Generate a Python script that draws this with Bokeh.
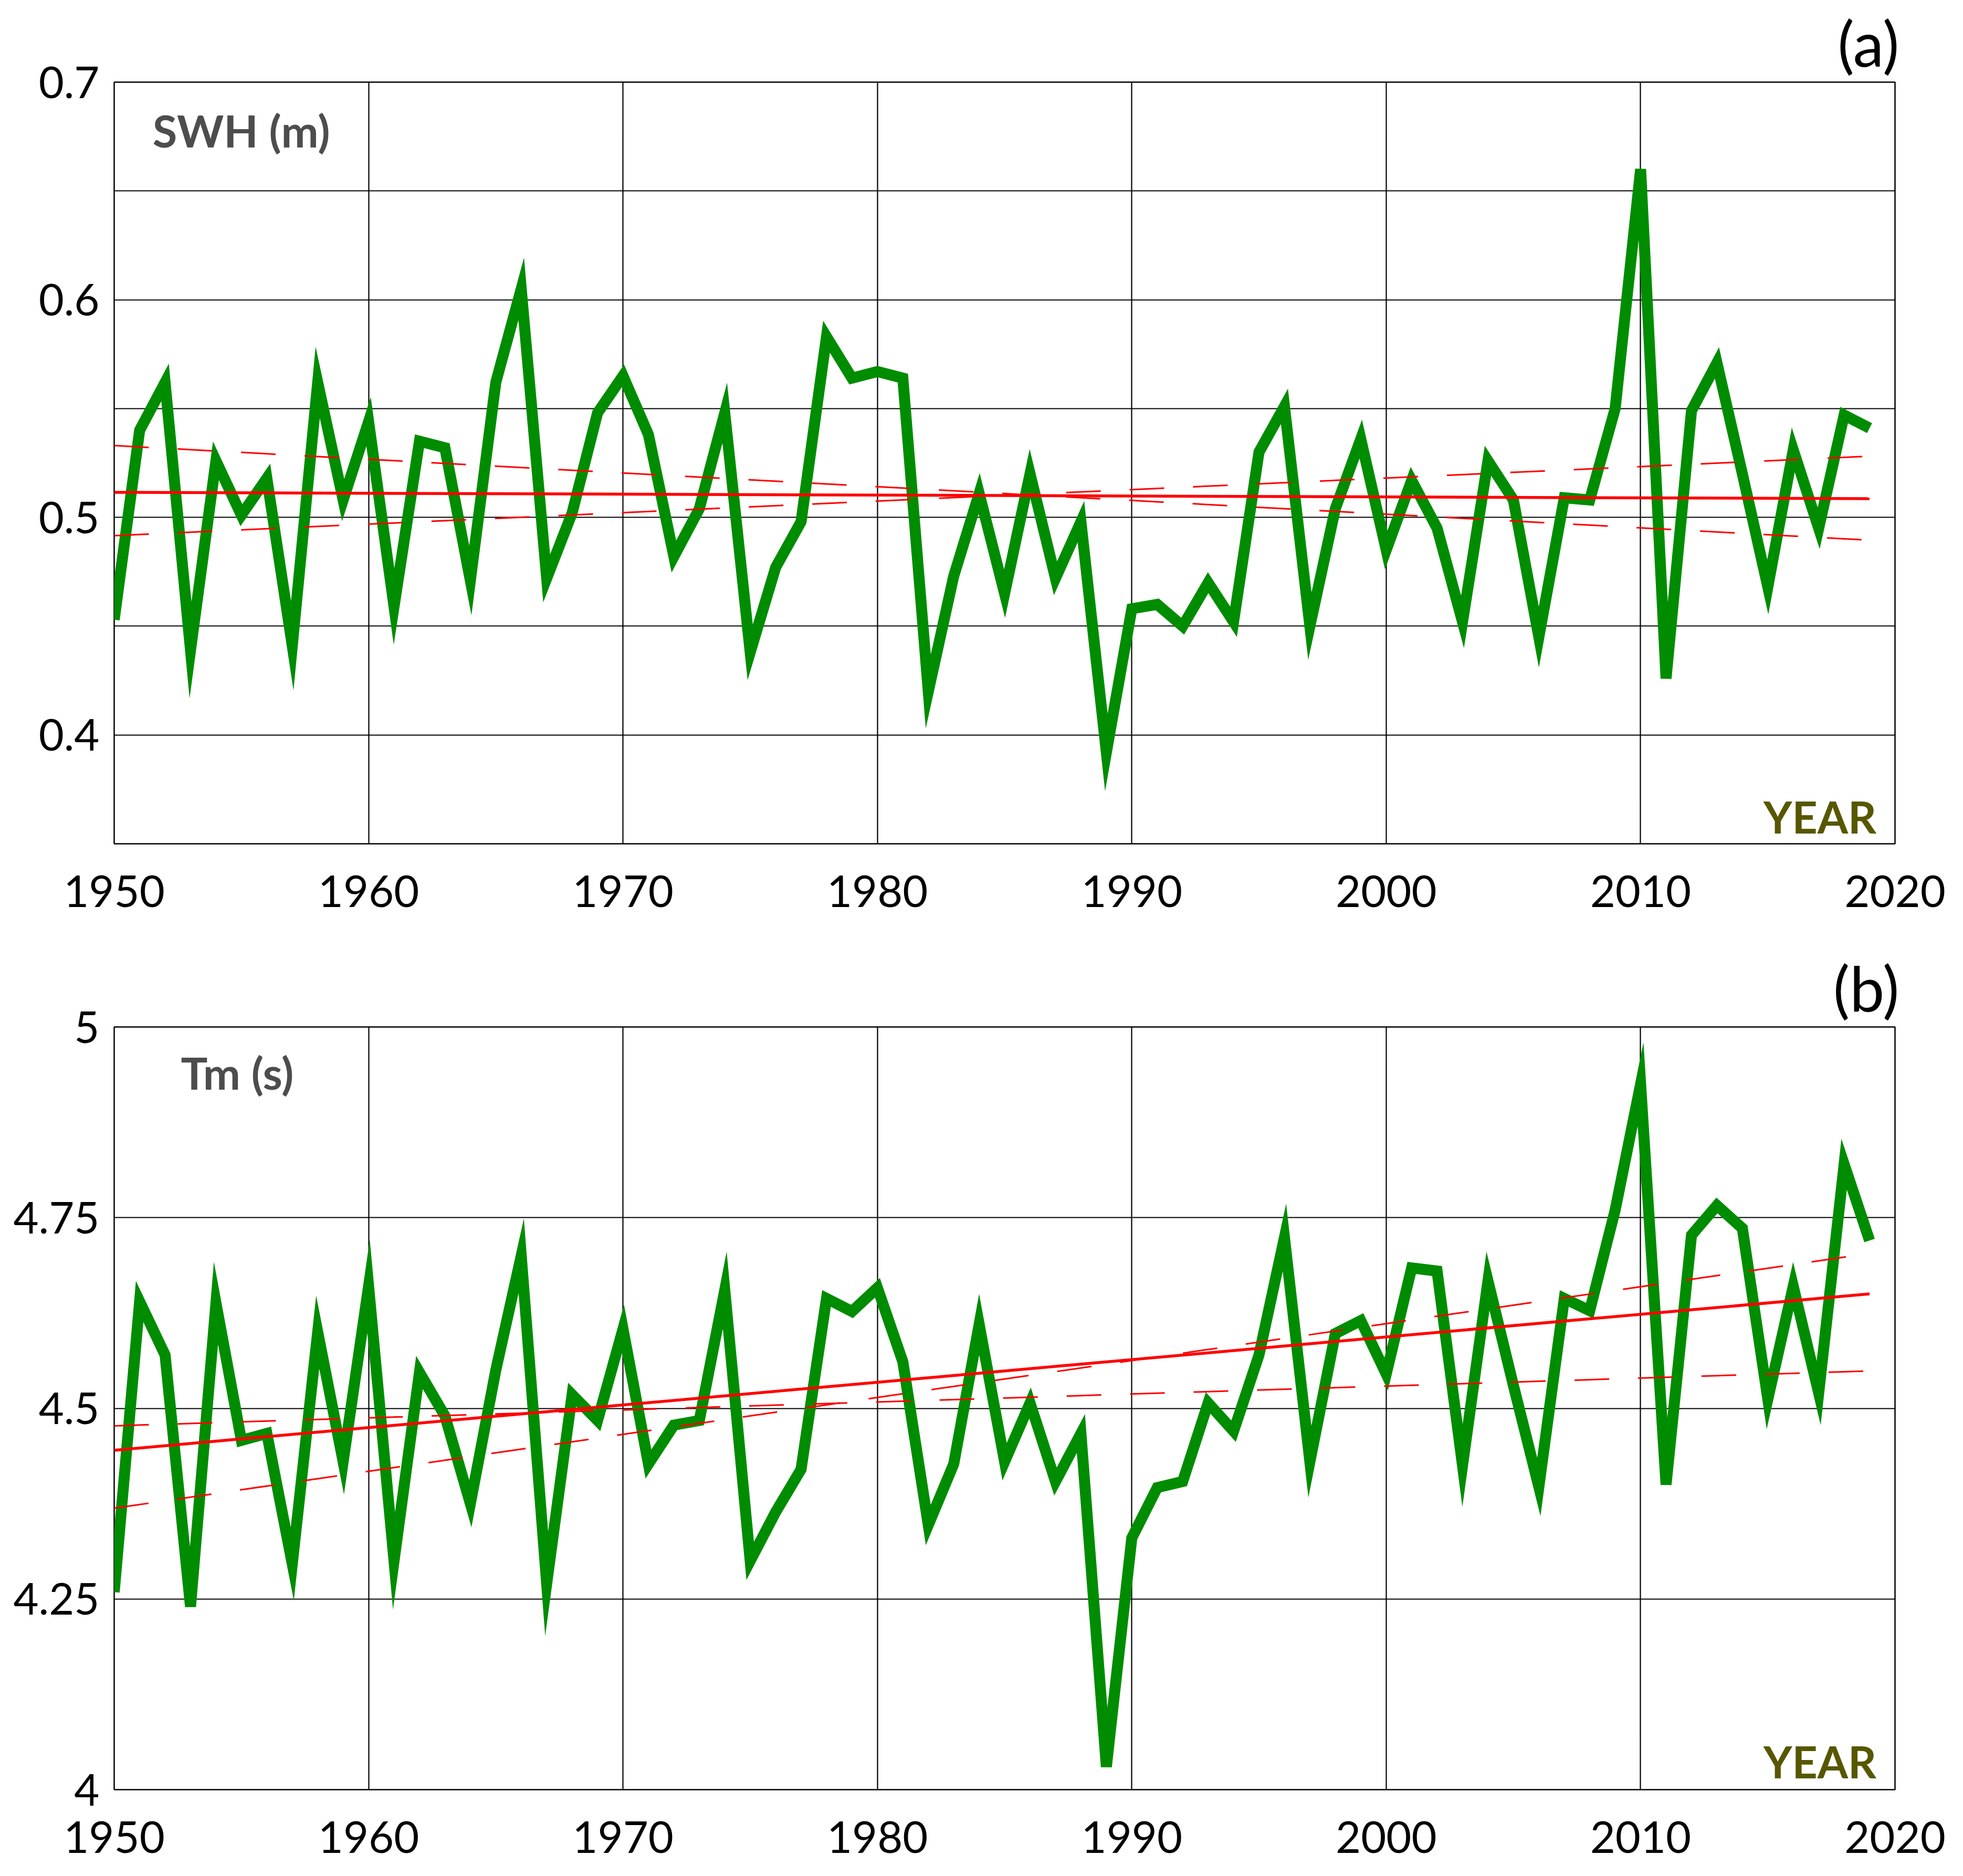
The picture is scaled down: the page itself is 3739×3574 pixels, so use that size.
from bokeh.plotting import figure
from bokeh.models import Range1d, FixedTicker, Label, CustomJSTickFormatter, Title
from bokeh.layouts import column
from bokeh.embed import file_html
from bokeh.resources import INLINE

# ---------------- data ----------------
years = list(range(1950, 2020))

swh = [0.453, 0.540, 0.562, 0.439, 0.526, 0.501, 0.518, 0.441, 0.562, 0.508,
       0.544, 0.459, 0.535, 0.532, 0.471, 0.562, 0.605, 0.472, 0.502, 0.548,
       0.565, 0.538, 0.482, 0.504, 0.548, 0.438, 0.477, 0.498, 0.583, 0.564,
       0.567, 0.564, 0.420, 0.473, 0.511, 0.465, 0.520, 0.472, 0.498, 0.392,
       0.458, 0.460, 0.450, 0.470, 0.452, 0.530, 0.551, 0.450, 0.504, 0.536,
       0.485, 0.517, 0.495, 0.452, 0.526, 0.508, 0.445, 0.509, 0.508, 0.550,
       0.660, 0.426, 0.549, 0.571, 0.520, 0.468, 0.531, 0.495, 0.547, 0.541]

tm = [4.259, 4.640, 4.570, 4.240, 4.638, 4.458, 4.467, 4.296, 4.600, 4.430,
      4.660, 4.300, 4.547, 4.490, 4.375, 4.550, 4.700, 4.270, 4.518, 4.484,
      4.604, 4.427, 4.478, 4.484, 4.655, 4.300, 4.364, 4.420, 4.644, 4.627,
      4.658, 4.561, 4.347, 4.427, 4.610, 4.430, 4.507, 4.404, 4.467, 4.030,
      4.330, 4.396, 4.404, 4.507, 4.470, 4.570, 4.724, 4.430, 4.598, 4.615,
      4.545, 4.684, 4.680, 4.425, 4.667, 4.530, 4.397, 4.644, 4.628, 4.760,
      4.925, 4.400, 4.727, 4.766, 4.736, 4.512, 4.660, 4.520, 4.820, 4.720]

trend_years = [1950, 2019]
swh_trend = [0.5115, 0.5086]
swh_band_1 = [0.5330, 0.4895]
swh_band_2 = [0.4916, 0.5281]
tm_trend = [4.445, 4.650]
tm_band_1 = [4.369, 4.703]
tm_band_2 = [4.477, 4.549]

x_ticks = [1950, 1960, 1970, 1980, 1990, 2000, 2010, 2020]
swh_label_ticks = [0.4, 0.5, 0.6, 0.7]
swh_grid_ticks = [0.35, 0.4, 0.45, 0.5, 0.55, 0.6, 0.65, 0.7]
tm_label_ticks = [4.0, 4.25, 4.5, 4.75, 5.0]
tm_grid_ticks = [4.0, 4.25, 4.5, 4.75, 5.0]

FONT = "Lato"
GREEN = "#008c00"
OLIVE = "#575700"
GRAY = "#4d4d4d"

W = 3723


def panel(height, border_bottom, yr, label_ticks, grid_ticks, vals, trend,
          b1, b2, tag, name, name_x, name_y, year_y):
    p = figure(width=W, height=height, x_range=Range1d(1950, 2020),
               y_range=yr, output_backend="svg", toolbar_location=None,
               min_border_left=217, min_border_right=114,
               min_border_top=156, min_border_bottom=border_bottom)
    p.background_fill_color = "white"
    p.border_fill_color = "white"
    p.outline_line_color = "black"
    p.outline_line_width = 2.5

    p.title = Title(text=tag, align="right", text_font=FONT,
                    text_font_size="118px", text_font_style="normal",
                    text_color="black", standoff=10, offset=-8)

    p.xaxis.ticker = FixedTicker(ticks=x_ticks)
    p.yaxis.ticker = FixedTicker(ticks=label_ticks)
    p.xgrid.ticker = FixedTicker(ticks=x_ticks)
    p.ygrid.ticker = FixedTicker(ticks=grid_ticks)
    for g in (p.xgrid, p.ygrid):
        g.grid_line_color = "black"
        g.grid_line_width = 2.2
        g.grid_line_alpha = 1.0
    p.yaxis.formatter = CustomJSTickFormatter(code="return String(tick);")
    p.xaxis.formatter = CustomJSTickFormatter(code="return String(tick);")
    for ax in (p.xaxis, p.yaxis):
        ax.axis_line_color = None
        ax.major_tick_line_color = None
        ax.minor_tick_line_color = None
        ax.major_tick_out = 0
        ax.major_tick_in = 0
        ax.major_label_text_font = FONT
        ax.major_label_text_font_size = "83px"
        ax.major_label_text_color = "black"
    p.yaxis.major_label_standoff = 28
    p.xaxis.major_label_standoff = 60

    p.line(years, vals, line_color=GREEN, line_width=21, line_join="miter")
    p.line(trend_years, trend, line_color="#ff0000", line_width=5.5)
    p.line(trend_years, b1, line_color="#ff0000", line_width=3,
           line_dash="66 55")
    p.line(trend_years, b2, line_color="#ff0000", line_width=3,
           line_dash="66 55")

    p.add_layout(Label(x=name_x, y=name_y, text=name, text_font=FONT,
                       text_font_size="85px", text_font_style="bold",
                       text_color=GRAY, text_align="left",
                       text_baseline="alphabetic"))
    p.add_layout(Label(x=2019.27, y=year_y, text="YEAR", text_font=FONT,
                       text_font_size="84px", text_font_style="bold",
                       text_color=OLIVE, text_align="right",
                       text_baseline="alphabetic"))
    return p


pa = panel(1800, 193, Range1d(0.35, 0.7), swh_label_ticks, swh_grid_ticks,
           swh, swh_trend, swh_band_1, swh_band_2,
           "(a)", "SWH (m)", 1951.51, 0.6780, 0.3625)
pb = panel(1758, 149, Range1d(4.0, 5.0), tm_label_ticks, tm_grid_ticks,
           tm, tm_trend, tm_band_1, tm_band_2,
           "(b)", "Tm (s)", 1952.62, 4.9408, 4.0370)

layout = column(pa, pb)
open("out.html", "w").write(file_html(layout, INLINE))
